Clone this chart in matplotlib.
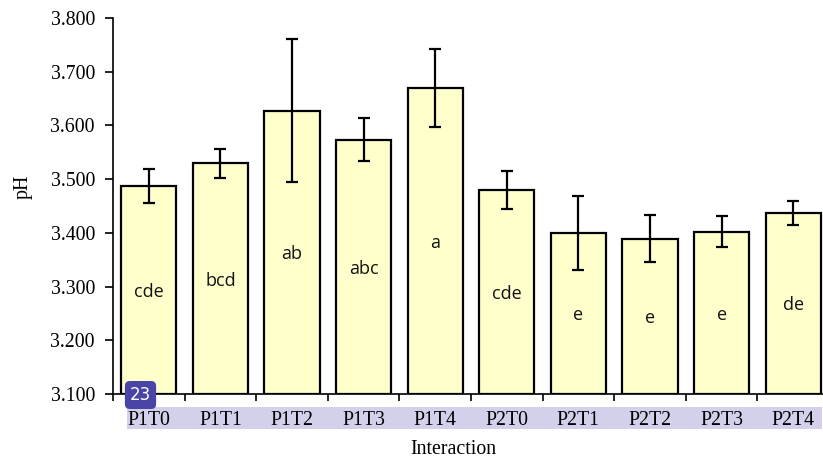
import matplotlib.pyplot as plt
import numpy as np
from matplotlib.patches import Rectangle

# data
categories = ["P1T0", "P1T1", "P1T2", "P1T3", "P1T4",
              "P2T0", "P2T1", "P2T2", "P2T3", "P2T4"]
ph_mean = [3.487, 3.530, 3.627, 3.573, 3.670,
           3.480, 3.400, 3.389, 3.402, 3.437]
ph_err = [0.032, 0.027, 0.133, 0.040, 0.073,
          0.036, 0.069, 0.044, 0.029, 0.023]
letters = ["cde", "bcd", "ab", "abc", "a",
           "cde", "e", "e", "e", "de"]
y_ticks = [3.1, 3.2, 3.3, 3.4, 3.5, 3.6, 3.7, 3.8]

serif = "Liberation Serif"
sans = "Open Sans"

fig = plt.figure(figsize=(8.23, 4.58), dpi=100)
W, H = 823, 458
# axes box in pixels: left 113, right 829 (clipped past the edge), top 18, bottom 394
ax = fig.add_axes([113 / W, 1 - 394 / H, (829 - 113) / W, (394 - 18) / H])

x = np.arange(len(categories))
ax.bar(x, np.array(ph_mean) - 3.1, bottom=3.1, width=0.77,
       color="#FFFFCC", edgecolor="black", linewidth=1.6, zorder=2)
ax.errorbar(x, ph_mean, yerr=ph_err, fmt="none", ecolor="black",
            elinewidth=1.6, capsize=4.5, capthick=1.6, zorder=3)

for xi, m, lab in zip(x, ph_mean, letters):
    ax.text(xi, (3.1 + m) / 2, lab, ha="center", va="center_baseline",
            fontsize=13, family=sans, color="#111111", zorder=4)

ax.set_xlim(-0.5, len(categories) - 0.5)
ax.set_ylim(3.1, 3.8)
ax.set_yticks(y_ticks)
ax.set_yticklabels([f"{v:.3f}" for v in y_ticks], family=serif, fontsize=14.3)

# category labels centred, tick marks at the boundaries
ax.set_xticks(x)
ax.set_xticklabels(categories, family=serif, fontsize=14.3)
ax.tick_params(axis="x", length=0, pad=12)
ax.set_xticks(np.arange(len(categories) + 1) - 0.5, minor=True)
ax.tick_params(axis="x", which="minor", length=5, width=1.2, direction="out")
ax.tick_params(axis="y", length=6, width=1.2, direction="out", pad=7)

for s in ["top", "right"]:
    ax.spines[s].set_visible(False)
ax.spines["left"].set_linewidth(1.2)
ax.spines["bottom"].set_linewidth(1.2)

ax.set_xlabel("Interaction", family=serif, fontsize=14.3)
ax.xaxis.set_label_coords(0.476, -0.122)
ax.set_ylabel("pH", family=serif, fontsize=14.3)
ax.yaxis.set_label_coords(-0.112, 0.55)

# lavender highlight band behind the category labels
fig.patches.append(Rectangle((127 / W, 1 - 429 / H), (822 - 127) / W, 22 / H,
                             transform=fig.transFigure, facecolor="#D2D0EA",
                             edgecolor="none", zorder=-1))

# small "23" badge in the lower-left corner
fig.text(140.5 / W, 1 - 395 / H, "23", ha="center", va="center", fontsize=12,
         family="DejaVu Sans", color="white",
         bbox=dict(boxstyle="round,pad=0.3,rounding_size=0.3",
                   facecolor="#4A44A6", edgecolor="none"), zorder=5)

fig.savefig("out.png", dpi=100)
